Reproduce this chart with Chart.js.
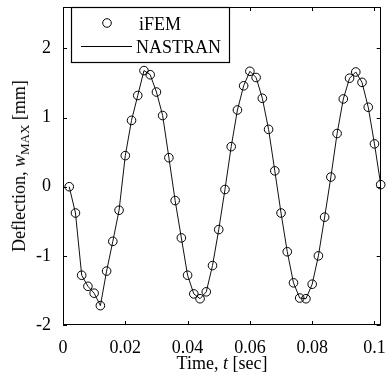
<!DOCTYPE html>
<html>
<head>
<meta charset="utf-8">
<script src="https://cdn.jsdelivr.net/npm/chart.js@4.4.0/dist/chart.umd.min.js"></script>
<style>
  html, body { margin: 0; padding: 0; background: #fff; }
  #wrap { position: relative; width: 386px; height: 375px; font-family: "Liberation Serif", "Times New Roman", serif; color: #000; }
  .axis-title { position: absolute; font-size: 18px; line-height: 18px; white-space: nowrap; }
  #xTitle { left: 222px; top: 354px; transform: translateX(-50%); }
  #yTitle { left: 19px; top: 166px; transform: translate(-50%, -50%) rotate(-90deg); }
  .axis-title sub { font-size: 13px; line-height: 0; vertical-align: -4px; }
</style>
</head>
<body>
<div id="wrap">
  <canvas id="chart" width="386" height="375"></canvas>
  <div id="xTitle" class="axis-title">Time, <i>t</i> [sec]</div>
  <div id="yTitle" class="axis-title">Deflection, <i>w</i><sub>MAX</sub> [mm]</div>
</div>
<script>
// time samples (sec)
const time = [
  0.002, 0.004, 0.006, 0.008, 0.010, 0.012, 0.014, 0.016, 0.018, 0.020,
  0.022, 0.024, 0.026, 0.028, 0.030, 0.032, 0.034, 0.036, 0.038, 0.040,
  0.042, 0.044, 0.046, 0.048, 0.050, 0.052, 0.054, 0.056, 0.058, 0.060,
  0.062, 0.064, 0.066, 0.068, 0.070, 0.072, 0.074, 0.076, 0.078, 0.080,
  0.082, 0.084, 0.086, 0.088, 0.090, 0.092, 0.094, 0.096, 0.098, 0.100,
  0.102
];
// deflection (mm), iFEM markers
const ifem = [
  0.00, -0.38, -1.28, -1.44, -1.54, -1.72, -1.22, -0.79, -0.34, 0.45,
  0.96, 1.32, 1.68, 1.62, 1.37, 1.03, 0.42, -0.20, -0.74, -1.28,
  -1.55, -1.62, -1.52, -1.14, -0.62, -0.04, 0.58, 1.11, 1.46, 1.67,
  1.58, 1.28, 0.83, 0.23, -0.38, -0.94, -1.39, -1.61, -1.62, -1.41,
  -1.00, -0.44, 0.14, 0.77, 1.27, 1.57, 1.66, 1.51, 1.15, 0.62,
  0.03
];
// deflection (mm), NASTRAN line
const nastran = [
  0.00, -0.38, -1.28, -1.44, -1.54, -1.72, -1.22, -0.79, -0.34, 0.45,
  0.96, 1.32, 1.68, 1.62, 1.37, 1.03, 0.42, -0.20, -0.74, -1.28,
  -1.55, -1.62, -1.52, -1.14, -0.62, -0.04, 0.58, 1.11, 1.46, 1.67,
  1.58, 1.28, 0.83, 0.23, -0.38, -0.94, -1.39, -1.61, -1.62, -1.41,
  -1.00, -0.44, 0.14, 0.77, 1.27, 1.57, 1.66, 1.51, 1.15, 0.62,
  0.03
];
const xTicks = [0, 0.02, 0.04, 0.06, 0.08, 0.1];
const xTickLabels = ["0", "0.02", "0.04", "0.06", "0.08", "0.1"];
const yTicks = [-2, -1, 0, 1, 2];
const yTickLabels = ["-2", "-1", "0", "1", "2"];

const FONT = '"Liberation Serif", "Times New Roman", serif';

// box, inward ticks and legend drawn MATLAB-style
const framePlugin = {
  id: "frame",
  afterDraw(chart) {
    const { ctx, chartArea: a, scales } = chart;
    const xs = scales.x, ys = scales.y;
    const tl = 4;
    ctx.save();
    ctx.strokeStyle = "#000";
    ctx.lineWidth = 1;
    ctx.beginPath();
    xTicks.forEach(v => {
      const px = Math.round(xs.getPixelForValue(v)) + 0.5;
      ctx.moveTo(px, a.bottom); ctx.lineTo(px, a.bottom - tl);
      ctx.moveTo(px, a.top); ctx.lineTo(px, a.top + tl);
    });
    yTicks.forEach(v => {
      const py = Math.round(ys.getPixelForValue(v)) + 0.5;
      ctx.moveTo(a.left, py); ctx.lineTo(a.left + tl, py);
      ctx.moveTo(a.right, py); ctx.lineTo(a.right - tl, py);
    });
    ctx.stroke();
    ctx.strokeRect(Math.round(a.left) + 0.5, Math.round(a.top) + 0.5,
                   Math.round(a.width) - 1, Math.round(a.height) - 1);

    // legend
    const L = Math.round(a.left) + 8, T = Math.round(a.top);
    const W = 158, H = 55;
    ctx.fillStyle = "#fff";
    ctx.fillRect(L, T, W, H);
    ctx.lineWidth = 1.2;
    ctx.strokeRect(L + 0.5, T + 0.5, W, H);
    const ds = chart.data.datasets;
    ctx.lineWidth = 1;
    ctx.beginPath();
    ctx.arc(L + 36, T + 16, 4.3, 0, Math.PI * 2);
    ctx.stroke();
    ctx.beginPath();
    ctx.moveTo(L + 10, T + 39.5);
    ctx.lineTo(L + 61, T + 39.5);
    ctx.stroke();
    ctx.fillStyle = "#000";
    ctx.font = "18px " + FONT;
    ctx.textBaseline = "alphabetic";
    ctx.textAlign = "left";
    ctx.fillText(ds[0].label, L + 68, T + 23);
    ctx.fillText(ds[1].label, L + 65, T + 46);
    ctx.restore();
  }
};

new Chart(document.getElementById("chart"), {
  type: "scatter",
  data: {
    datasets: [
      {
        label: "iFEM",
        data: time.map((t, i) => ({ x: t, y: ifem[i] })),
        showLine: false,
        pointStyle: "circle",
        pointRadius: 4.3,
        pointBorderWidth: 1,
        pointBorderColor: "#000",
        pointBackgroundColor: "rgba(0,0,0,0)",
        clip: false
      },
      {
        label: "NASTRAN",
        data: time.map((t, i) => ({ x: t, y: nastran[i] })),
        showLine: true,
        borderColor: "#111",
        borderWidth: 1,
        pointRadius: 0,
        tension: 0
      }
    ]
  },
  options: {
    responsive: false,
    animation: false,
    devicePixelRatio: 1,
    layout: { padding: { left: 0, right: 5, top: 7, bottom: 0 } },
    plugins: { legend: { display: false }, tooltip: { enabled: false } },
    scales: {
      x: {
        type: "linear",
        min: 0,
        max: 0.102,
        grid: { display: false },
        border: { display: false },
        afterBuildTicks: s => { s.ticks = xTicks.map(v => ({ value: v })); },
        afterFit: s => { s.height = 50; s.paddingLeft = 0; s.paddingRight = 0; },
        ticks: {
          autoSkip: false,
          maxRotation: 0,
          padding: 4,
          color: "#000",
          font: { family: FONT, size: 18 },
          callback: (v, i) => xTickLabels[i]
        }
      },
      y: {
        type: "linear",
        min: -2,
        max: 2.6,
        grid: { display: false },
        border: { display: false },
        afterBuildTicks: s => { s.ticks = yTicks.map(v => ({ value: v })); },
        afterFit: s => { s.width = 63; s.paddingTop = 0; s.paddingBottom = 0; },
        ticks: {
          autoSkip: false,
          padding: 4,
          color: "#000",
          font: { family: FONT, size: 18 },
          callback: (v, i) => yTickLabels[i]
        }
      }
    }
  },
  plugins: [framePlugin]
});
</script>
</body>
</html>
